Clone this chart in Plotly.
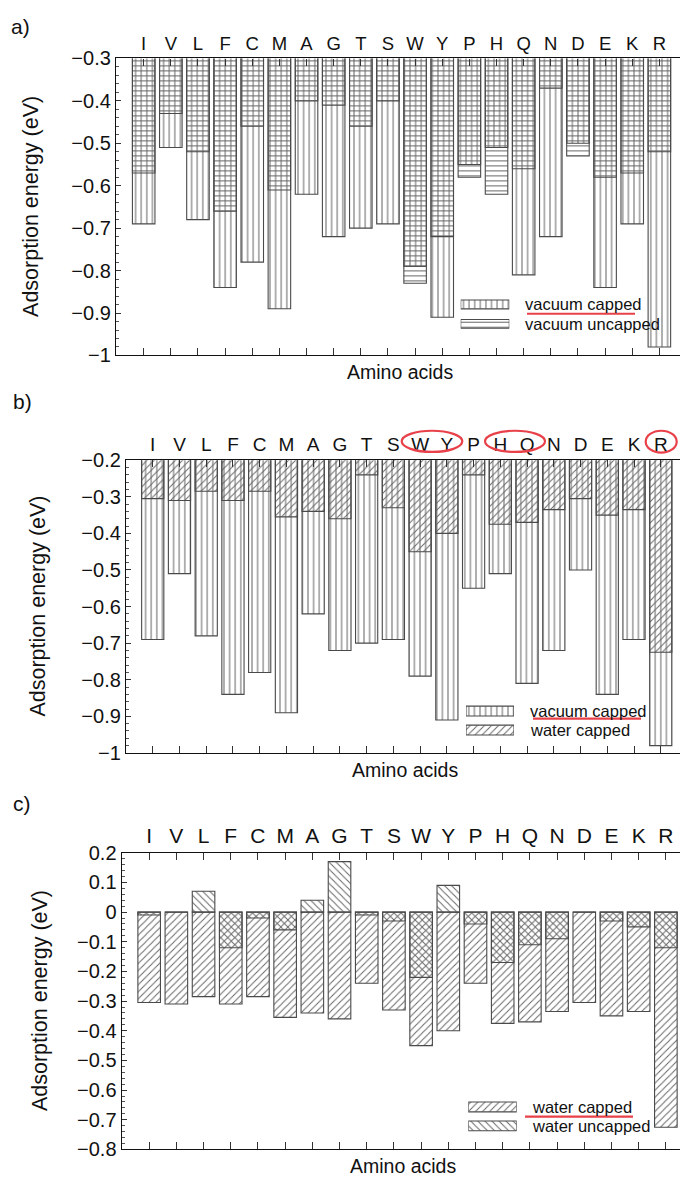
import plotly.graph_objects as go

# ---- data -------------------------------------------------------------
amino_acids = ["I", "V", "L", "F", "C", "M", "A", "G", "T", "S",
               "W", "Y", "P", "H", "Q", "N", "D", "E", "K", "R"]

vacuum_capped = [-0.69, -0.51, -0.68, -0.84, -0.78, -0.89, -0.62, -0.72, -0.70, -0.69,
                 -0.79, -0.91, -0.55, -0.51, -0.81, -0.72, -0.50, -0.84, -0.69, -0.98]
vacuum_uncapped = [-0.57, -0.43, -0.52, -0.66, -0.46, -0.61, -0.40, -0.41, -0.46, -0.40,
                   -0.83, -0.72, -0.58, -0.62, -0.56, -0.37, -0.53, -0.58, -0.57, -0.52]
water_capped = [-0.305, -0.31, -0.285, -0.31, -0.285, -0.355, -0.34, -0.36, -0.24, -0.33,
                -0.45, -0.40, -0.24, -0.375, -0.37, -0.335, -0.305, -0.35, -0.335, -0.725]
water_uncapped = [-0.01, 0.0, 0.07, -0.12, -0.02, -0.06, 0.04, 0.17, -0.01, -0.03,
                  -0.22, 0.09, -0.04, -0.17, -0.11, -0.09, 0.0, -0.03, -0.05, -0.12]

# ---- page geometry ----------------------------------------------------
W, H = 680, 1183
FONT = "Liberation Sans, Arial, sans-serif"
EDGE = "#4a4a4a"
HATCH = "#666666"
RED = "#e8414a"


def fx(px):
    return px / W


def fy(py):
    return 1 - py / H


HATCHES = {
    "vacuum capped": dict(shape="|", size=5.6, solidity=0.18),
    "vacuum uncapped": dict(shape="-", size=5.0, solidity=0.2),
    "water capped": dict(shape="/", size=5.0, solidity=0.2),
    "water uncapped": dict(shape="\\", size=5.0, solidity=0.2),
}


def marker_for(name):
    pat = dict(HATCHES[name])
    pat.update(fgcolor=HATCH, bgcolor="rgba(0,0,0,0)", fillmode="replace")
    return dict(color="rgba(0,0,0,0)", pattern=pat,
                line=dict(color=EDGE, width=1.1))


panels = [
    dict(tag="a)", series=[("vacuum capped", vacuum_capped), ("vacuum uncapped", vacuum_uncapped)],
         xpx=(116, 680), ypx=(48.3, 351), xr=(-1.02, 19.76), yr=(-1.0, -0.3), catfont=18.5,
         tagpos=(20, 16), ytitle_x=31,
         legend=dict(x=(460.7, 509.3), rows=(299.0, 318.8), h=9.0, text_x=522.7,
                     underline=((527, 635), 308.5))),
    dict(tag="b)", series=[("vacuum capped", vacuum_capped), ("water capped", water_capped)],
         xpx=(126, 680), ypx=(457.7, 756), xr=(-1.0, 19.72), yr=(-1.0, -0.2), catfont=19,
         tagpos=(22, 398), ytitle_x=38,
         legend=dict(x=(466, 514), rows=(713.3, 732.7), h=10.0, text_x=528,
                     underline=((533, 641), 721))),
    dict(tag="c)", series=[("water capped", water_capped), ("water uncapped", water_uncapped)],
         xpx=(121.7, 680), ypx=(857.7, 1160), xr=(-1.01, 19.52), yr=(-0.8, 0.2), catfont=21,
         tagpos=(22, 808), ytitle_x=40,
         legend=dict(x=(468.3, 516.7), rows=(1116.7, 1136.0), h=10.0, text_x=530,
                     underline=((525, 633), 1126.5))),
]

fig = go.Figure()
layout = dict(
    width=W, height=H, margin=dict(l=0, r=0, t=0, b=0),
    paper_bgcolor="white", plot_bgcolor="white",
    barmode="overlay", showlegend=False,
    font=dict(family=FONT, color="#111111"),
)
annotations = []
shapes = []

for i, p in enumerate(panels):
    n = i + 1
    sfx = "" if n == 1 else str(n)
    xa, ya = "x" + sfx, "y" + sfx

    for name, vals in p["series"]:
        fig.add_trace(go.Bar(x=amino_acids, y=vals, width=0.83, name=name,
                             marker=marker_for(name), xaxis=xa, yaxis=ya))

    layout["xaxis" + sfx] = dict(
        domain=[fx(p["xpx"][0]), fx(p["xpx"][1])], anchor=ya,
        type="category", categoryorder="array", categoryarray=amino_acids,
        range=list(p["xr"]), side="top",
        showline=True, linecolor="#111111", linewidth=1.3, mirror="ticks",
        ticks="inside", ticklen=7, tickcolor="#333333", tickwidth=1,
        tickfont=dict(size=p["catfont"], family=FONT, color="#111111"),
        showgrid=False, zeroline=False, fixedrange=True,
    )
    layout["yaxis" + sfx] = dict(
        domain=[fy(p["ypx"][1]), fy(p["ypx"][0])], anchor=xa,
        range=list(p["yr"]), dtick=0.1, tick0=0,
        showline=True, linecolor="#111111", linewidth=1.3,
        ticks="inside", ticklen=5, tickcolor="#333333", tickwidth=1,
        minor=dict(dtick=0.02, ticks="inside", ticklen=3, tickcolor="#555555"),
        tickfont=dict(size=20, family=FONT, color="#111111"),
        showgrid=False, zeroline=False, fixedrange=True,
    )

    # axis titles and panel tag
    annotations.append(dict(text="Adsorption energy (eV)", textangle=-90, showarrow=False,
                            xref="paper", yref="paper", x=fx(p["ytitle_x"]),
                            y=fy((p["ypx"][0] + p["ypx"][1]) / 2),
                            xanchor="center", yanchor="middle",
                            font=dict(size=21.5, family=FONT, color="#111111")))
    annotations.append(dict(text="Amino acids", showarrow=False,
                            xref="paper", yref="paper",
                            x=fx((p["xpx"][0] + p["xpx"][1]) / 2 + 2),
                            y=fy(p["ypx"][1] + 17), xanchor="center", yanchor="middle",
                            font=dict(size=19.5, family=FONT, color="#111111")))
    annotations.append(dict(text=p["tag"], showarrow=False, xref="paper", yref="paper",
                            x=fx(p["tagpos"][0]), y=fy(p["tagpos"][1]),
                            xanchor="center", yanchor="middle",
                            font=dict(size=21, family=FONT, color="#111111")))

    # legend: swatches drawn as hatched bars on a small hidden axis pair
    lg = p["legend"]
    ln = n + 3
    lxa, lya = "x" + str(ln), "y" + str(ln)
    pitch = lg["rows"][1] - lg["rows"][0]
    top = lg["rows"][0] - pitch / 2
    bot = lg["rows"][1] + pitch / 2
    for k, (name, _) in enumerate(p["series"]):
        fig.add_trace(go.Bar(y=[k], x=[1], base=[0], orientation="h", width=lg["h"] / pitch,
                             marker=marker_for(name), xaxis=lxa, yaxis=lya,
                             hoverinfo="skip"))
        annotations.append(dict(text=name, showarrow=False, xref="paper", yref="paper",
                                x=fx(lg["text_x"]), y=fy(lg["rows"][k]),
                                xanchor="left", yanchor="middle",
                                font=dict(size=16.5, family=FONT, color="#111111")))
    layout["xaxis" + str(ln)] = dict(domain=[fx(lg["x"][0]), fx(lg["x"][1])], anchor=lya,
                                     range=[0, 1], visible=False, fixedrange=True)
    layout["yaxis" + str(ln)] = dict(domain=[fy(bot), fy(top)], anchor=lxa,
                                     range=[1.5, -0.5], visible=False, fixedrange=True)

    # red underline under the first legend entry
    (ux0, ux1), uy = lg["underline"]
    shapes.append(dict(type="line", xref="paper", yref="paper",
                       x0=fx(ux0), x1=fx(ux1), y0=fy(uy), y1=fy(uy),
                       line=dict(color=RED, width=2.2)))

# red rings around highlighted residues in panel b
for (x0, x1), (y0, y1) in [((401.7, 462.3), (427.7, 449.3)),
                           ((485.0, 545.0), (427.7, 449.3)),
                           ((645.7, 676.7), (427.7, 450.0))]:
    shapes.append(dict(type="circle", xref="paper", yref="paper",
                       x0=fx(x0), x1=fx(x1), y0=fy(y1), y1=fy(y0),
                       line=dict(color=RED, width=2.2)))

layout["annotations"] = annotations
layout["shapes"] = shapes
fig.update_layout(**layout)

fig.write_html("out.html")
